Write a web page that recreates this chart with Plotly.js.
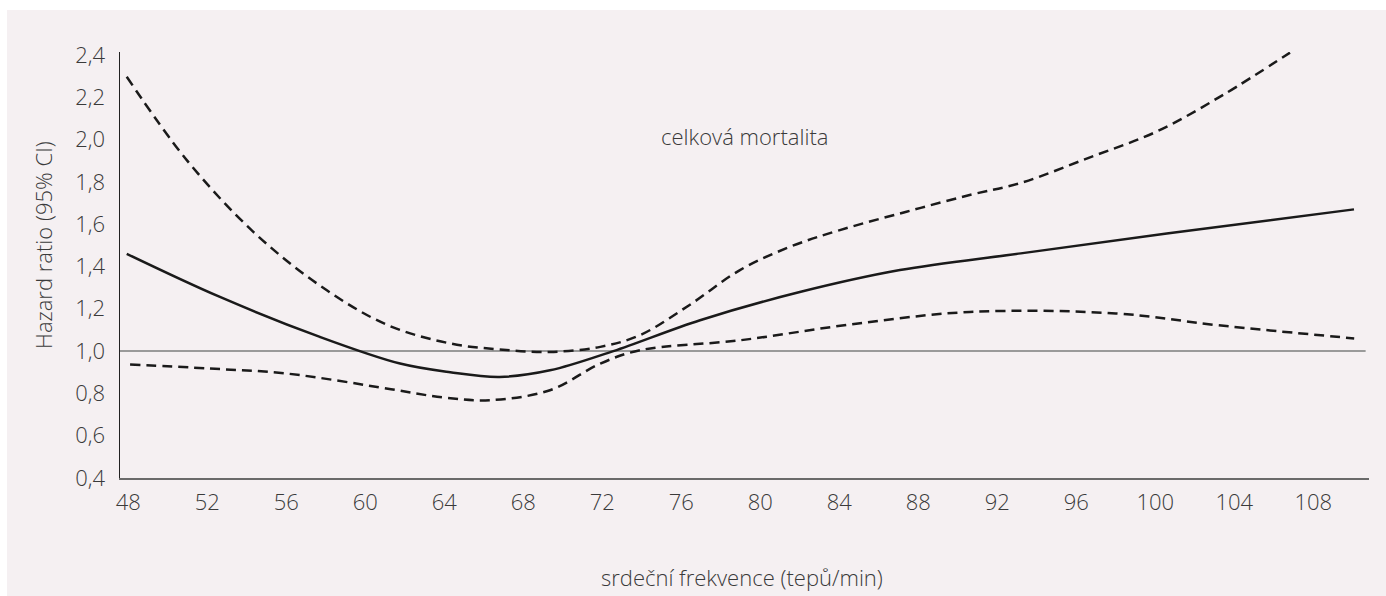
<!DOCTYPE html>
<html>
<head>
<meta charset="utf-8">
<script src="https://cdn.plot.ly/plotly-3.0.1.min.js"></script>
<style>
  html, body { margin: 0; padding: 0; background: #ffffff; }
  #chart { width: 1386px; height: 596px; }
</style>
</head>
<body>
<div id="chart"></div>
<script>
// Heart rate (beats/min) and hazard ratio estimates
const hrX    = [47.92, 52.64, 57.7, 61.76, 64.3, 66.8, 69.35, 72.56, 76.95, 82.0, 87.07, 93.19, 100.58, 110.06];
const hrMain = [1.46, 1.256, 1.067, 0.941, 0.90, 0.878, 0.909, 1.0, 1.146, 1.279, 1.383, 1.462, 1.556, 1.67];

const upX  = [47.92, 50.96, 54.33, 57.7, 61.08, 64.3, 66.8, 69.35, 71.9, 73.9, 76.4, 78.97, 81.5, 84.03, 87.4, 90.6, 93.19, 96.66, 100.12, 103.5, 106.82];
const upCI = [2.297, 1.903, 1.564, 1.31, 1.125, 1.036, 1.008, 0.996, 1.02, 1.075, 1.217, 1.383, 1.493, 1.572, 1.659, 1.738, 1.795, 1.915, 2.04, 2.215, 2.411];

const loX  = [48.09, 52, 56.0, 61.3, 64.0, 66.3, 69.35, 71.9, 73.9, 78.97, 84.5, 90.6, 98, 103.2, 110.07];
const loCI = [0.937, 0.918, 0.894, 0.82, 0.78, 0.768, 0.815, 0.941, 1.004, 1.051, 1.125, 1.185, 1.178, 1.122, 1.06];

const refX = [47.58, 110.65];
const refY = [1.0, 1.0];

const xTicks = [48, 52, 56, 60, 64, 68, 72, 76, 80, 84, 88, 92, 96, 100, 104, 108];
const yTicks = [0.4, 0.6, 0.8, 1.0, 1.2, 1.4, 1.6, 1.8, 2.0, 2.2, 2.4];

const seriesLabel = 'celková mortalita';
const xTitle = 'srdeční frekvence (tepů/min)';
const yTitle = 'Hazard ratio (95% CI)';

const FONT = '"Open Sans", "Noto Sans", sans-serif';
const TXT = '#3a3a3a';
const FS = 22;

const traces = [
  { x: refX, y: refY, mode: 'lines', line: { color: '#9a9a9a', width: 2 }, hoverinfo: 'skip' },
  { x: upX, y: upCI, mode: 'lines', line: { color: '#1a1a1a', width: 2.5, dash: '10px,6px', shape: 'spline', smoothing: 1 } },
  { x: loX, y: loCI, mode: 'lines', line: { color: '#1a1a1a', width: 2.5, dash: '10px,6px', shape: 'spline', smoothing: 1 } },
  { x: hrX, y: hrMain, mode: 'lines', line: { color: '#1a1a1a', width: 2.5, shape: 'spline', smoothing: 1 } }
];

const layout = {
  width: 1386, height: 596,
  margin: { l: 120, r: 17, t: 52, b: 118 },
  paper_bgcolor: '#ffffff',
  plot_bgcolor: 'rgba(0,0,0,0)',
  showlegend: false,
  separators: ', ',
  font: { family: FONT, size: FS, color: TXT, weight: 300 },
  xaxis: {
    range: [47.58, 110.82],
    tickmode: 'array', tickvals: xTicks,
    ticks: '', showgrid: false, zeroline: false,
    showline: true, linecolor: '#6a6a6a', linewidth: 2,
    tickfont: { family: FONT, size: FS, color: TXT, weight: 300 },
    ticklabelstandoff: 4
  },
  yaxis: {
    range: [0.4, 2.414],
    tickmode: 'array', tickvals: yTicks, tickformat: '.1f',
    ticks: '', showgrid: false, zeroline: false,
    showline: true, linecolor: '#222222', linewidth: 1.5,
    tickfont: { family: FONT, size: FS, color: TXT, weight: 300 },
    ticklabelstandoff: 9
  },
  shapes: [
    { type: 'rect', xref: 'paper', yref: 'paper', layer: 'below',
      x0: -0.0905, x1: 1.02, y0: -0.30, y1: 1.0986,
      fillcolor: '#f5f0f2', line: { width: 0 } }
  ],
  annotations: [
    { text: seriesLabel, xref: 'paper', yref: 'paper', x: 0.4996, y: 0.8028,
      xanchor: 'center', yanchor: 'middle', showarrow: false,
      font: { family: FONT, size: FS, color: TXT, weight: 300 } },
    { text: xTitle, xref: 'paper', yref: 'paper', x: 0.4978, y: -0.2317,
      xanchor: 'center', yanchor: 'middle', showarrow: false,
      font: { family: FONT, size: FS, color: TXT, weight: 300 } },
    { text: yTitle, xref: 'paper', yref: 'paper', x: -0.0617, y: 0.547,
      xanchor: 'center', yanchor: 'middle', showarrow: false, textangle: -90,
      font: { family: FONT, size: FS, color: TXT, weight: 300 } }
  ]
};

Plotly.newPlot('chart', traces, layout, { displayModeBar: false, staticPlot: true });
</script>
</body>
</html>
